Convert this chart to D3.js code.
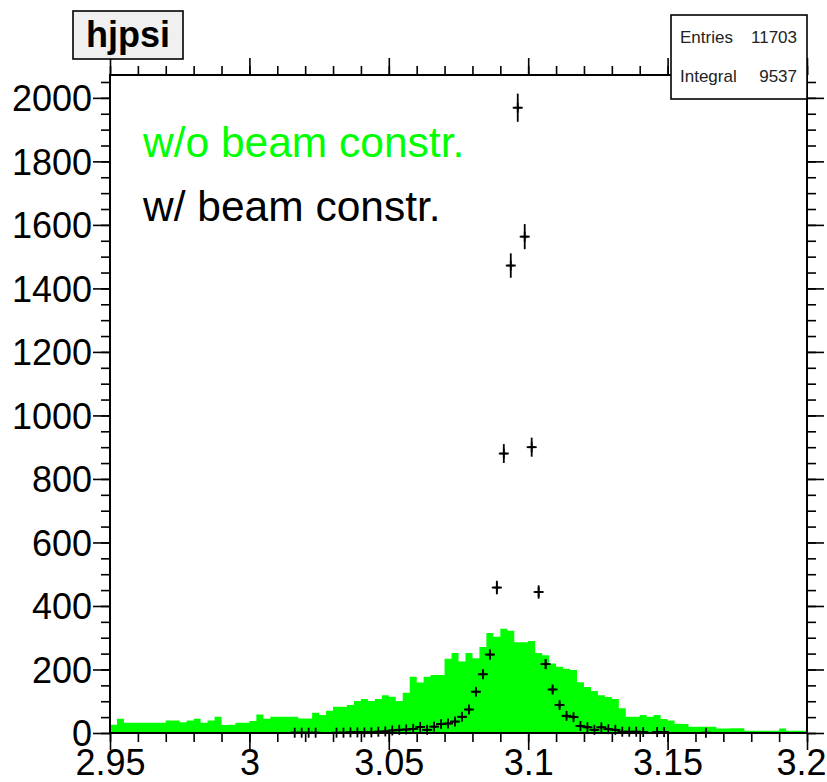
<!DOCTYPE html>
<html>
<head>
<meta charset="utf-8">
<script src="https://cdn.jsdelivr.net/npm/d3@7/dist/d3.min.js"></script>
<style>
  html, body { margin: 0; padding: 0; background: #ffffff; }
  svg { display: block; font-family: "Liberation Sans", Arial, Helvetica, sans-serif; }
</style>
</head>
<body>
<svg id="chart" width="827" height="782"></svg>
<script>
// Histogram binning: 100 equal bins over the mass window
const xRange = [2.95, 3.2];
const nBins = 100;

// Counts per bin, reconstructed J/psi mass without the beam constraint (filled)
const countsNoBeam = [
  26, 45, 32, 32, 32, 32, 32, 32, 39, 39,
  34, 39, 45, 32, 39, 51, 25, 26, 32, 32,
  38, 58, 45, 51, 51, 51, 51, 46, 46, 64,
  57, 70, 83, 83, 88, 101, 107, 101, 107, 119,
  114, 101, 127, 177, 159, 177, 183, 183, 234, 252,
  225, 252, 235, 271, 315, 303, 328, 322, 286, 286,
  290, 252, 245, 219, 209, 202, 198, 160, 145, 132,
  119, 113, 107, 78, 51, 51, 57, 51, 57, 44,
  39, 29, 28, 20, 20, 20, 20, 14, 14, 15,
  15, 7, 7, 7, 7, 7, 14, 7, 7, 7
];

// Counts per bin, with the beam constraint (points with sqrt(N) errors)
const countsBeam = [
  0, 0, 0, 0, 0, 0, 0, 0, 0, 0,
  0, 0, 0, 0, 0, 0, 0, 0, 0, 0,
  0, 0, 0, 0, 0, 0, 1, 1, 1, 1,
  0, 0, 1, 1, 2, 2, 2, 2, 4, 5,
  8, 10, 11, 13, 19, 10, 20, 28, 30, 36,
  51, 74, 130, 185, 247, 458, 880, 1472, 1969, 1563,
  900, 444, 217, 137, 88, 54, 50, 22, 18, 10,
  18, 12, 10, 4, 4, 4, 3, 0, 3, 3,
  0, 0, 0, 0, 0, 1, 0, 0, 0, 0,
  0, 0, 0, 0, 0, 0, 0, 0, 0, 0
];

const xTickValues = [2.95, 3, 3.05, 3.1, 3.15, 3.2];
const xTickLabels = ["2.95", "3", "3.05", "3.1", "3.15", "3.2"];
const yTickValues = [0, 200, 400, 600, 800, 1000, 1200, 1400, 1600, 1800, 2000];
const yTickLabels = ["0", "200", "400", "600", "800", "1000", "1200", "1400", "1600", "1800", "2000"];
const yMax = 2072;

const histTitle = "hjpsi";
const statsNames = ["Entries", "Integral"];
const statsValues = ["11703", "9537"];
const legendLabels = ["w/o beam constr.", "w/ beam constr."];
const legendColors = ["#00ff00", "#000000"];

// ---- layout ----
const W = 827;
const frame = { left: 110, right: 807, top: 75, bottom: 733 };
const svg = d3.select("#chart");

const x = d3.scaleLinear().domain(xRange).range([frame.left, frame.right]);
const y = d3.scaleLinear().domain([0, yMax]).range([frame.bottom, frame.top]);

const binWidth = (xRange[1] - xRange[0]) / nBins;
const binLo = i => xRange[0] + i * binWidth;
const binHi = i => xRange[0] + (i + 1) * binWidth;
const binMid = i => xRange[0] + (i + 0.5) * binWidth;

// ---- filled histogram (no beam constraint) ----
const stepPoints = [];
countsNoBeam.forEach((v, i) => {
  stepPoints.push([binLo(i), v]);
  stepPoints.push([binHi(i), v]);
});
const area = d3.area()
  .x(d => x(d[0]))
  .y0(y(0))
  .y1(d => y(d[1]));
svg.append("path")
  .datum(stepPoints)
  .attr("d", area)
  .attr("fill", "#00ff00")
  .attr("stroke", "none");

// ---- error-bar points (beam constraint) ----
const pts = countsBeam.map((v, i) => ({ i, v })).filter(d => d.v > 0);
const gPts = svg.append("g")
  .attr("stroke", "#000")
  .attr("stroke-width", 1.8)
  .attr("fill", "none");
const markerHalf = 5;
pts.forEach(d => {
  const cx = x(binMid(d.i));
  const cy = y(d.v);
  const err = Math.sqrt(d.v);
  // vertical error
  gPts.append("line")
    .attr("x1", cx).attr("x2", cx)
    .attr("y1", y(d.v - err)).attr("y2", y(d.v + err));
  // horizontal bin extent
  gPts.append("line")
    .attr("x1", x(binLo(d.i))).attr("x2", x(binHi(d.i)))
    .attr("y1", cy).attr("y2", cy);
  // plus marker
  gPts.append("line")
    .attr("x1", cx - markerHalf).attr("x2", cx + markerHalf)
    .attr("y1", cy).attr("y2", cy);
  gPts.append("line")
    .attr("x1", cx).attr("x2", cx)
    .attr("y1", cy - markerHalf).attr("y2", cy + markerHalf);
});

// ---- axes (ticks outside the frame) ----
const xMinor = d3.range(0, 26).map(k => xRange[0] + k * 0.01);
const yMinor = d3.range(0, 42).map(k => k * 50);
const majorLen = 17, minorLen = 9;

function styleAxis(g) {
  g.select(".domain").remove();
  g.selectAll(".tick line").attr("stroke", "#000").attr("stroke-width", 1.6);
}

// bottom
svg.append("g").attr("transform", `translate(0,${frame.bottom})`)
  .call(d3.axisBottom(x).tickValues(xMinor).tickSize(minorLen).tickFormat(""))
  .call(styleAxis);
const xAxisG = svg.append("g").attr("transform", `translate(0,${frame.bottom})`)
  .call(d3.axisBottom(x).tickValues(xTickValues).tickSize(majorLen)
    .tickFormat((d, i) => xTickLabels[i]))
  .call(styleAxis);
xAxisG.selectAll("text")
  .attr("y", 42).attr("dy", 0)
  .attr("fill", "#000")
  .style("font-size", "36px")
  .style("font-family", "'Liberation Sans', Arial, Helvetica, sans-serif");
// keep the last label inside the page
xAxisG.selectAll(".tick").each(function (d) {
  const t = d3.select(this).select("text");
  const w = t.node().getComputedTextLength();
  const over = x(d) + w / 2 - (W - 1);
  if (over > 0) t.attr("x", -over);
});

// top
svg.append("g").attr("transform", `translate(0,${frame.top})`)
  .call(d3.axisTop(x).tickValues(xMinor).tickSize(minorLen).tickFormat(""))
  .call(styleAxis);
svg.append("g").attr("transform", `translate(0,${frame.top})`)
  .call(d3.axisTop(x).tickValues(xTickValues).tickSize(majorLen).tickFormat(""))
  .call(styleAxis);

// left
svg.append("g").attr("transform", `translate(${frame.left},0)`)
  .call(d3.axisLeft(y).tickValues(yMinor).tickSize(minorLen).tickFormat(""))
  .call(styleAxis);
const yAxisG = svg.append("g").attr("transform", `translate(${frame.left},0)`)
  .call(d3.axisLeft(y).tickValues(yTickValues).tickSize(majorLen)
    .tickFormat((d, i) => yTickLabels[i]))
  .call(styleAxis);
yAxisG.selectAll("text")
  .attr("x", -18)
  .attr("dy", "0.36em")
  .attr("fill", "#000")
  .style("font-size", "36px")
  .style("font-family", "'Liberation Sans', Arial, Helvetica, sans-serif");

// right
svg.append("g").attr("transform", `translate(${frame.right},0)`)
  .call(d3.axisRight(y).tickValues(yMinor).tickSize(minorLen).tickFormat(""))
  .call(styleAxis);
svg.append("g").attr("transform", `translate(${frame.right},0)`)
  .call(d3.axisRight(y).tickValues(yTickValues).tickSize(majorLen).tickFormat(""))
  .call(styleAxis);

// frame
svg.append("rect")
  .attr("x", frame.left).attr("y", frame.top)
  .attr("width", frame.right - frame.left)
  .attr("height", frame.bottom - frame.top)
  .attr("fill", "none")
  .attr("stroke", "#000")
  .attr("stroke-width", 2);

// ---- legend text ----
legendLabels.forEach((t, i) => {
  svg.append("text")
    .attr("x", 143)
    .attr("y", 157 + i * 64)
    .attr("fill", legendColors[i])
    .style("font-size", "42.5px")
    .text(t);
});

// ---- title box ----
svg.append("rect")
  .attr("x", 73).attr("y", 11).attr("width", 110).attr("height", 48)
  .attr("fill", "#f0f0f0")
  .attr("stroke", "#000").attr("stroke-width", 1.6);
svg.append("text")
  .attr("x", 128).attr("y", 47)
  .attr("text-anchor", "middle")
  .attr("fill", "#000")
  .style("font-size", "36px")
  .style("font-weight", "bold")
  .text(histTitle);

// ---- statistics box ----
svg.append("rect")
  .attr("x", 671).attr("y", 15).attr("width", 136).attr("height", 84)
  .attr("fill", "#ffffff")
  .attr("stroke", "#000").attr("stroke-width", 1.6);
statsNames.forEach((name, i) => {
  const by = 43 + i * 39;
  svg.append("text")
    .attr("x", 680).attr("y", by)
    .attr("fill", "#222")
    .style("font-size", "17px")
    .text(name);
  svg.append("text")
    .attr("x", 797).attr("y", by)
    .attr("text-anchor", "end")
    .attr("fill", "#222")
    .style("font-size", "17px")
    .text(statsValues[i]);
});
</script>
</body>
</html>
